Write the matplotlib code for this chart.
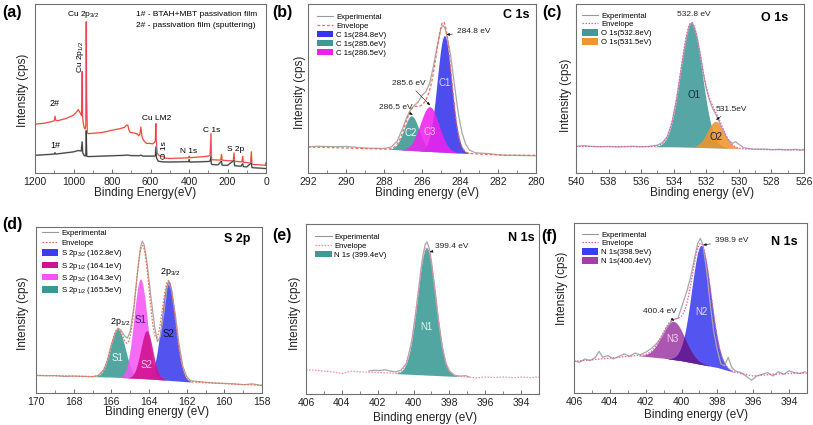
import numpy as np
import matplotlib
matplotlib.use("Agg")
import matplotlib.pyplot as plt
from matplotlib.lines import Line2D
from matplotlib.patches import Patch
from matplotlib.ticker import MultipleLocator

plt.rcParams["font.family"] = ["Liberation Sans", "DejaVu Sans"]
plt.rcParams["mathtext.default"] = "regular"

W, H = 813, 425

# ---------------- (a) survey spectra ----------------
survey2_x = [1200, 1150, 1110, 1100, 1096, 1092, 1080, 1040, 1000, 985, 975, 965, 958, 955, 953,
             950, 945, 940, 936, 934, 932, 928, 925, 900, 850, 800, 760, 735, 725, 718, 712, 705,
             690, 670, 660, 655, 650, 645, 640, 630, 620, 600, 590, 580, 575, 572, 570, 566, 560,
             550, 540, 532, 528, 520, 500, 450, 402, 399, 396, 350, 320, 300, 290, 286, 284, 282,
             275, 250, 235, 231, 228, 200, 170, 166, 163, 150, 125, 121, 118, 100, 80, 76, 73, 60,
             30, 10, 3, 1, 0]
survey2_y = [0.289, 0.295, 0.305, 0.31, 0.336, 0.312, 0.31, 0.322, 0.342, 0.36, 0.375, 0.355, 0.34,
             0.60, 0.34, 0.30, 0.27, 0.26, 0.28, 0.895, 0.45, 0.24, 0.233, 0.235, 0.24, 0.253, 0.262,
             0.27, 0.283, 0.283, 0.255, 0.24, 0.238, 0.232, 0.22, 0.23, 0.272, 0.22, 0.20, 0.185,
             0.175, 0.175, 0.172, 0.18, 0.19, 0.292, 0.20, 0.12, 0.108, 0.10, 0.098, 0.10, 0.09,
             0.088, 0.086, 0.088, 0.09, 0.10, 0.09, 0.095, 0.097, 0.10, 0.105, 0.233, 0.10, 0.08,
             0.078, 0.077, 0.076, 0.11, 0.076, 0.073, 0.072, 0.119, 0.07, 0.068, 0.066, 0.099,
             0.064, 0.062, 0.058, 0.125, 0.052, 0.05, 0.048, 0.046, 0.047, 0.06, 0.045]
survey1_x = [1200, 1150, 1100, 1096, 1092, 1050, 1000, 975, 960, 955, 952, 945, 940, 936, 934, 931,
             925, 900, 850, 800, 750, 720, 700, 660, 650, 640, 600, 575, 572, 569, 560, 540, 500,
             450, 402, 399, 396, 350, 300, 290, 286, 284, 280, 250, 231, 228, 200, 166, 163, 130,
             121, 118, 100, 76, 73, 50, 20, 0]
survey1_y = [0.105, 0.108, 0.112, 0.12, 0.112, 0.118, 0.125, 0.133, 0.13, 0.184, 0.12, 0.105, 0.10,
             0.105, 0.25, 0.10, 0.097, 0.098, 0.10, 0.102, 0.104, 0.106, 0.103, 0.102, 0.106, 0.10,
             0.10, 0.10, 0.154, 0.09, 0.07, 0.066, 0.065, 0.066, 0.067, 0.08, 0.065, 0.066, 0.068,
             0.07, 0.10, 0.055, 0.05, 0.048, 0.07, 0.046, 0.045, 0.075, 0.043, 0.04, 0.055, 0.038,
             0.036, 0.06, 0.032, 0.03, 0.028, 0.026]

# ---------------- (b) C 1s ----------------
c1s_exp_x = [292, 291.5, 291, 290.5, 290, 289.5, 289, 288.5, 288, 287.6, 287.3, 287.0, 286.8, 286.6,
             286.4, 286.2, 286.0, 285.8, 285.6, 285.4, 285.2, 285.0, 284.9, 284.8, 284.7, 284.5,
             284.3, 284.1, 283.9, 283.7, 283.5, 283.2, 283.0, 282.5, 282.0, 281.5, 281.0, 280.5, 280]
c1s_exp_y = [0.155, 0.158, 0.157, 0.156, 0.157, 0.152, 0.148, 0.146, 0.145, 0.155, 0.19, 0.27, 0.33,
             0.375, 0.40, 0.42, 0.46, 0.48, 0.53, 0.63, 0.75, 0.855, 0.875, 0.86, 0.82, 0.70, 0.53,
             0.36, 0.24, 0.17, 0.135, 0.12, 0.118, 0.115, 0.108, 0.105, 0.104, 0.103, 0.102]
c1s_bg_x = [292, 287.7, 283.5, 281.7, 280]
c1s_bg_y = [0.154, 0.14, 0.115, 0.105, 0.105]
c1s_centers = [284.82, 286.55, 285.6]
c1s_heights = [0.69, 0.205, 0.265]
c1s_fwhm = [0.9, 0.93, 1.15]
c1s_colors = ["#3434ec", "#3a9991", "#ee22ee"]
c1s_legend = ["C 1s(284.8eV)", "C 1s(285.6eV)", "C 1s(286.5eV)"]

# ---------------- (c) O 1s ----------------
o1s_exp_x = [540, 539.5, 539, 538.5, 538, 537.5, 537, 536.5, 536, 535.5, 535, 534.7, 534.4, 534.1,
             533.8, 533.5, 533.2, 533.0, 532.85, 532.6, 532.4, 532.2, 532.0, 531.8, 531.6, 531.4,
             531.2, 531.0, 530.7, 530.4, 530.2, 530.0, 529.7, 529.4, 529, 528.5, 528, 527.5, 527,
             526.5, 526.2, 526]
o1s_exp_y = [0.158, 0.162, 0.157, 0.155, 0.157, 0.154, 0.156, 0.158, 0.155, 0.158, 0.165, 0.18,
             0.215, 0.30, 0.45, 0.64, 0.81, 0.88, 0.89, 0.82, 0.72, 0.60, 0.50, 0.43, 0.38, 0.345,
             0.30, 0.255, 0.20, 0.175, 0.185, 0.17, 0.15, 0.145, 0.14, 0.142, 0.138, 0.14, 0.136,
             0.14, 0.135, 0.14]
o1s_bg_x = [540, 534, 531, 529, 526]
o1s_bg_y = [0.157, 0.155, 0.148, 0.14, 0.136]
o1s_centers = [532.92, 531.42]
o1s_heights = [0.735, 0.157]
o1s_fwhm = [1.55, 1.2]
o1s_colors = ["#3d9a99", "#f0952e"]
o1s_legend = ["O 1s(532.8eV)", "O 1s(531.5eV)"]

# ---------------- (d) S 2p ----------------
s2p_exp_x = [170, 169.5, 169, 168.5, 168, 167.5, 167, 166.7, 166.4, 166.2, 166.0, 165.8, 165.65,
             165.5, 165.3, 165.15, 165.0, 164.8, 164.6, 164.45, 164.35, 164.25, 164.1, 163.9, 163.7,
             163.55, 163.4, 163.2, 163.05, 162.95, 162.8, 162.6, 162.4, 162.2, 162.0, 161.8, 161.5,
             161, 160.5, 160, 159.5, 159, 158.5, 158]
s2p_exp_y = [0.106, 0.104, 0.105, 0.10, 0.102, 0.10, 0.098, 0.105, 0.14, 0.20, 0.29, 0.36, 0.39,
             0.38, 0.345, 0.33, 0.37, 0.52, 0.74, 0.88, 0.915, 0.89, 0.78, 0.58, 0.40, 0.31, 0.34,
             0.49, 0.63, 0.665, 0.62, 0.47, 0.29, 0.16, 0.10, 0.075, 0.07, 0.065, 0.06, 0.058,
             0.055, 0.05, 0.055, 0.045]
s2p_bg_x = [170, 166, 164, 162, 160, 158]
s2p_bg_y = [0.106, 0.096, 0.085, 0.068, 0.056, 0.046]
s2p_centers = [165.65, 162.97, 164.45, 164.12]
s2p_heights = [0.29, 0.60, 0.60, 0.29]
s2p_fwhm = [0.92, 0.88, 0.82, 0.75]
s2p_colors = ["#3a9a92", "#3b3bef", "#f555f5", "#d0128f"]
s2p_legend = ["S 2p$_{3/2}$ (162.8eV)", "S 2p$_{1/2}$ (164.1eV)",
              "S 2p$_{3/2}$ (164.3eV)", "S 2p$_{1/2}$ (165.5eV)"]
s2p_legend_colors = ["#3b3bef", "#d0128f", "#f555f5", "#3a9a92"]

# ---------------- (e) N 1s ----------------
n1s_e_exp_x = [402.5, 402.2, 401.9, 401.6, 401.3, 401.0, 400.7, 400.4, 400.1, 399.9, 399.7, 399.5,
               399.35, 399.25, 399.1, 398.95, 398.8, 398.6, 398.4, 398.2, 398.0, 397.7, 397.4,
               397.1, 396.9]
n1s_e_exp_y = [0.135, 0.14, 0.138, 0.142, 0.135, 0.13, 0.14, 0.18, 0.31, 0.46, 0.63, 0.80, 0.88,
               0.895, 0.85, 0.74, 0.61, 0.43, 0.28, 0.18, 0.135, 0.11, 0.105, 0.108, 0.10]
n1s_e_bg_x = [406, 405.5, 405, 404.5, 404, 403.5, 403, 402.5, 402, 401.5, 401, 400, 399, 398,
              397.5, 397, 396.5, 396, 395.5, 395, 394.5, 394, 393.5, 393]
n1s_e_bg_y = [0.143, 0.14, 0.135, 0.13, 0.12, 0.135, 0.13, 0.128, 0.126, 0.125, 0.12, 0.115, 0.11,
              0.105, 0.103, 0.10, 0.095, 0.10, 0.097, 0.10, 0.095, 0.10, 0.096, 0.10]
n1s_e_centers = [399.27]
n1s_e_heights = [0.75]
n1s_e_fwhm = [1.2]
n1s_e_colors = ["#3a9a94"]
n1s_e_legend = ["N 1s (399.4eV)"]

# ---------------- (f) N 1s ----------------
n1s_f_exp_x = [406, 405.7, 405.4, 405.1, 404.8, 404.6, 404.4, 404.1, 403.8, 403.5, 403.2, 402.9,
               402.6, 402.3, 402.0, 401.7, 401.4, 401.1, 400.8, 400.5, 400.2, 399.95, 399.7, 399.5,
               399.3, 399.1, 398.95, 398.8, 398.6, 398.4, 398.2, 398.0, 397.8, 397.6, 397.4, 397.2,
               397.0, 396.7, 396.4, 396.1, 395.8, 395.5, 395.2, 394.9, 394.6, 394.3, 394.0, 393.7,
               393.4, 393.1]
n1s_f_exp_y = [0.19, 0.18, 0.20, 0.19, 0.21, 0.245, 0.21, 0.22, 0.20, 0.215, 0.23, 0.215, 0.235,
               0.225, 0.24, 0.26, 0.29, 0.33, 0.39, 0.43, 0.44, 0.52, 0.60, 0.68, 0.78, 0.88, 0.91,
               0.87, 0.72, 0.52, 0.36, 0.25, 0.17, 0.16, 0.21, 0.15, 0.13, 0.12, 0.10, 0.075, 0.10,
               0.11, 0.12, 0.10, 0.125, 0.11, 0.13, 0.12, 0.115, 0.125]
n1s_f_bg_x = [406, 405, 404, 403, 402.5, 402, 401, 400, 399, 398, 397.5, 397, 396.5, 396, 395.5,
              395, 394, 393]
n1s_f_bg_y = [0.186, 0.195, 0.205, 0.215, 0.22, 0.215, 0.205, 0.19, 0.17, 0.15, 0.135, 0.12, 0.11,
              0.10, 0.105, 0.11, 0.115, 0.118]
n1s_f_centers = [398.9, 400.45]
n1s_f_heights = [0.70, 0.225]
n1s_f_fwhm = [1.27, 1.5]
n1s_f_colors = ["#3c3cf0", "#a040a8"]
n1s_f_legend = ["N 1s(398.9eV)", "N 1s(400.4eV)"]


def gauss(x, c, h, fwhm):
    s = fwhm / 2.3548
    return h * np.exp(-(x - c) ** 2 / (2 * s * s))


def interp_sorted(x, xp, fp):
    order = np.argsort(xp)
    return np.interp(x, np.asarray(xp)[order], np.asarray(fp)[order])


fig = plt.figure(figsize=(W / 100, H / 100), dpi=100)


def px_axes(l, t, r, b):
    return fig.add_axes([l / W, 1 - b / H, (r - l) / W, (b - t) / H])


def style(ax, xlim, major, minor):
    ax.set_xlim(*xlim)
    ax.set_ylim(0, 1)
    ax.set_yticks([])
    ax.xaxis.set_major_locator(MultipleLocator(major))
    ax.xaxis.set_minor_locator(MultipleLocator(minor))
    ax.tick_params(axis="x", which="both", direction="in", color="#555555",
                   labelcolor="#222222", labelsize=7.5, pad=3)
    ax.tick_params(axis="x", which="major", length=3, width=0.6)
    ax.tick_params(axis="x", which="minor", length=2, width=0.5)
    for s in ax.spines.values():
        s.set_color("#707070")
        s.set_linewidth(0.8)


def fit_panel(ax, lo, hi, bg_x, bg_y, centers, heights, fwhms, colors, overlap=None):
    x = np.linspace(lo, hi, 1200)
    bg = interp_sorted(x, bg_x, bg_y)
    comps = []
    for c, h, w, col in zip(centers, heights, fwhms, colors):
        comp = gauss(x, c, h, w)
        comps.append(comp)
        m = comp > 0.002
        ax.fill_between(x[m], bg[m], bg[m] + comp[m], color=col, alpha=0.88, lw=0)
    if overlap is not None:
        low = np.minimum(comps[0], comps[1])
        m = low > 0.002
        ax.fill_between(x[m], bg[m], bg[m] + low[m], color=overlap, alpha=0.9, lw=0)
    env = bg + np.sum(comps, axis=0)
    return x, env


def legend(ax, env_style, env_color, labels, colors, loc_xy, spacing=0.12):
    handles = [Line2D([], [], color="#999999", lw=0.8),
               Line2D([], [], color=env_color, lw=0.9, ls=env_style)]
    handles += [Patch(facecolor=c, edgecolor="none") for c in colors]
    ax.legend(handles, ["Experimental", "Envelope"] + labels, loc="upper left",
              bbox_to_anchor=loc_xy, frameon=False, fontsize=5.6, handlelength=2.1,
              handleheight=0.9, handletextpad=0.35, labelspacing=spacing, borderpad=0,
              borderaxespad=0)


def arrow(ax, txt, xy, xytext, ha="left", fs=6):
    ax.annotate(txt, xy=xy, xytext=xytext, fontsize=fs, color="#222222", ha=ha, va="center",
                arrowprops=dict(arrowstyle="-|>,head_length=0.3,head_width=0.12", color="#111111",
                                lw=0.4, shrinkA=1, shrinkB=0))


def panel_text(letter, x, y):
    fig.text(x / W, 1 - y / H, letter, fontsize=11.5, fontweight="bold", ha="left", va="center")


def ylabel(x, y):
    fig.text(x / W, 1 - y / H, "Intensity (cps)", fontsize=8.5, rotation=90, ha="center",
             va="center", color="#222222")


def xlabel(x, y, txt="Binding energy (eV)"):
    fig.text(x / W, 1 - y / H, txt, fontsize=8.5, ha="center", va="center", color="#222222")


# ---------- (a) ----------
ax = px_axes(35, 4, 266, 173)
style(ax, (1200, 0), 200, 100)
ax.plot(survey2_x, survey2_y, color="#f8d860", lw=1.3, alpha=0.6)
ax.plot(survey2_x, survey2_y, color="#f0405a", lw=0.8)
ax.plot(survey1_x, survey1_y, color="#b8b8b8", lw=1.3)
ax.plot(survey1_x, survey1_y, color="#3c3c3c", lw=0.7)
ax.text(949, 0.935, "Cu 2p$_{3/2}$", fontsize=6, ha="center", va="center")
ax.text(966, 0.69, "Cu 2p$_{1/2}$", fontsize=6, ha="center", va="center", rotation=90)
ax.text(567, 0.322, "Cu LM2", fontsize=6, ha="center", va="center")
ax.text(529, 0.138, "O 1s", fontsize=6, ha="center", va="center", rotation=90)
ax.text(402, 0.128, "N 1s", fontsize=6, ha="center", va="center")
ax.text(284, 0.253, "C 1s", fontsize=6, ha="center", va="center")
ax.text(156, 0.14, "S 2p", fontsize=6, ha="center", va="center")
ax.text(1096, 0.41, "2#", fontsize=6.5, ha="center", va="center")
ax.text(1096, 0.165, "1#", fontsize=6.5, ha="center", va="center")
ax.text(675, 0.935, "1# - BTAH+MBT passivation film", fontsize=6, ha="left", va="center")
ax.text(675, 0.87, "2# - passivation film (sputtering)", fontsize=6, ha="left", va="center")
panel_text("(a)", 2, 13)
ylabel(23, 90)
xlabel(145, 193, "Binding Energy(eV)")

# ---------- (b) ----------
ax = px_axes(308, 4, 536, 173)
style(ax, (292, 280), 2, 1)
x, env = fit_panel(ax, 292, 280, c1s_bg_x, c1s_bg_y, c1s_centers, c1s_heights, c1s_fwhm,
                   c1s_colors)
ax.plot(c1s_exp_x, c1s_exp_y, color="#a8a8a8", lw=0.9)
ax.plot(x, env, color="#f06a5a", lw=0.9, ls=(0, (2.2, 1.6)))
legend(ax, (0, (2.2, 1.6)), "#f06a5a", c1s_legend, c1s_colors, (0.04, 0.945))
ax.text(0.97, 0.935, "C 1s", transform=ax.transAxes, fontsize=9, fontweight="bold",
        ha="right", va="center")
arrow(ax, "284.8 eV", (284.72, 0.818), (284.17, 0.836))
arrow(ax, "285.6 eV", (285.57, 0.40), (286.7, 0.53), ha="center")
arrow(ax, "286.5 eV", (286.48, 0.345), (287.4, 0.39), ha="center")
ax.text(284.8, 0.53, "C1", fontsize=7, color="#d8d8ff", ha="center", va="center")
ax.text(286.6, 0.237, "C2", fontsize=7, color="#f0f8f8", ha="center", va="center")
ax.text(285.57, 0.243, "C3", fontsize=7, color="#ffd0ff", ha="center", va="center")
panel_text("(b)", 272, 13)
ylabel(300, 92)
xlabel(427, 193)

# ---------- (c) ----------
ax = px_axes(576, 4, 804, 173)
style(ax, (540, 526), 2, 1)
x, env = fit_panel(ax, 540, 526, o1s_bg_x, o1s_bg_y, o1s_centers, o1s_heights, o1s_fwhm,
                   o1s_colors)
ax.plot(o1s_exp_x, o1s_exp_y, color="#a8a8a8", lw=0.9)
ax.plot(x, env, color="#e060b0", lw=0.9, ls=(0, (1.2, 1.2)))
legend(ax, (0, (1.2, 1.2)), "#e060b0", o1s_legend, o1s_colors, (0.026, 0.955))
ax.text(0.93, 0.92, "O 1s", transform=ax.transAxes, fontsize=9, fontweight="bold",
        ha="right", va="center")
ax.text(532.76, 0.935, "532.8 eV", fontsize=6, ha="center", va="center", color="#222222")
arrow(ax, "531.5eV", (531.4, 0.314), (531.45, 0.377))
ax.text(532.76, 0.464, "O1", fontsize=7, color="#1c2c3c", ha="center", va="center")
ax.text(531.43, 0.213, "O2", fontsize=7, color="#1c2050", ha="center", va="center")
panel_text("(c)", 542, 13)
ylabel(566, 95)
xlabel(702, 193)

# ---------- (d) ----------
ax = px_axes(36, 227, 262, 393)
style(ax, (170, 158), 2, 1)
x, env = fit_panel(ax, 170, 158, s2p_bg_x, s2p_bg_y, s2p_centers, s2p_heights, s2p_fwhm,
                   s2p_colors)
ax.plot(s2p_exp_x, s2p_exp_y, color="#a8a8a8", lw=0.9)
ax.plot(x, env, color="#f07050", lw=0.9, ls=(0, (1.4, 1.2)))
legend(ax, (0, (1.4, 1.2)), "#f07050", s2p_legend, s2p_legend_colors, (0.027, 0.985),
       spacing=0.18)
ax.text(0.947, 0.93, "S 2p", transform=ax.transAxes, fontsize=9, fontweight="bold",
        ha="right", va="center")
ax.text(165.5, 0.43, "2p$_{1/2}$", fontsize=6.5, ha="center", va="center")
ax.text(162.85, 0.73, "2p$_{3/2}$", fontsize=6.5, ha="center", va="center")
ax.text(164.46, 0.438, "S1", fontsize=7, color="#501a80", ha="center", va="center")
ax.text(164.14, 0.17, "S2", fontsize=7, color="#ffc8e8", ha="center", va="center")
ax.text(162.96, 0.357, "S2", fontsize=7, color="#10103a", ha="center", va="center")
ax.text(165.66, 0.21, "S1", fontsize=7, color="#eef8f8", ha="center", va="center")
panel_text("(d)", 2, 225)
ylabel(23, 313)
xlabel(157, 412)

# ---------- (e) ----------
ax = px_axes(306, 224, 539, 394)
style(ax, (406, 393), 2, 1)
x, env = fit_panel(ax, 406, 393, n1s_e_bg_x, n1s_e_bg_y, n1s_e_centers, n1s_e_heights,
                   n1s_e_fwhm, n1s_e_colors)
ax.plot(n1s_e_exp_x, n1s_e_exp_y, color="#a8a8a8", lw=0.9)
ax.plot(x, env, color="#f08cb0", lw=0.9, ls=(0, (1.2, 1.2)))
legend(ax, (0, (1.2, 1.2)), "#f08cb0", n1s_e_legend, n1s_e_colors, (0.04, 0.945))
ax.text(0.983, 0.92, "N 1s", transform=ax.transAxes, fontsize=9, fontweight="bold",
        ha="right", va="center")
arrow(ax, "399.4 eV", (399.1, 0.835), (398.8, 0.867))
ax.text(399.3, 0.397, "N1", fontsize=7, color="#e4f4ec", ha="center", va="center")
panel_text("(e)", 272, 235)
ylabel(295, 313)
xlabel(425, 418)

# ---------- (f) ----------
ax = px_axes(574, 223, 807, 393)
style(ax, (406, 393), 2, 1)
x, env = fit_panel(ax, 406, 393, n1s_f_bg_x, n1s_f_bg_y, n1s_f_centers, n1s_f_heights,
                   n1s_f_fwhm, n1s_f_colors, overlap="#5e1a96")
ax.plot(n1s_f_exp_x, n1s_f_exp_y, color="#a8a8a8", lw=0.9)
ax.plot(x, env, color="#e860a0", lw=0.9, ls=(0, (1.2, 1.2)))
legend(ax, (0, (1.2, 1.2)), "#e860a0", n1s_f_legend, n1s_f_colors, (0.034, 0.955))
ax.text(0.96, 0.89, "N 1s", transform=ax.transAxes, fontsize=9, fontweight="bold",
        ha="right", va="center")
arrow(ax, "398.9 eV", (398.8, 0.87), (398.15, 0.898))
arrow(ax, "400.4 eV", (400.4, 0.425), (401.2, 0.478), ha="center")
ax.text(398.9, 0.475, "N2", fontsize=7, color="#dcdcff", ha="center", va="center")
ax.text(400.51, 0.318, "N3", fontsize=7, color="#f4d0f4", ha="center", va="center")
panel_text("(f)", 541, 237)
ylabel(562, 288)
xlabel(696, 415)

fig.savefig("out.png", dpi=100)
